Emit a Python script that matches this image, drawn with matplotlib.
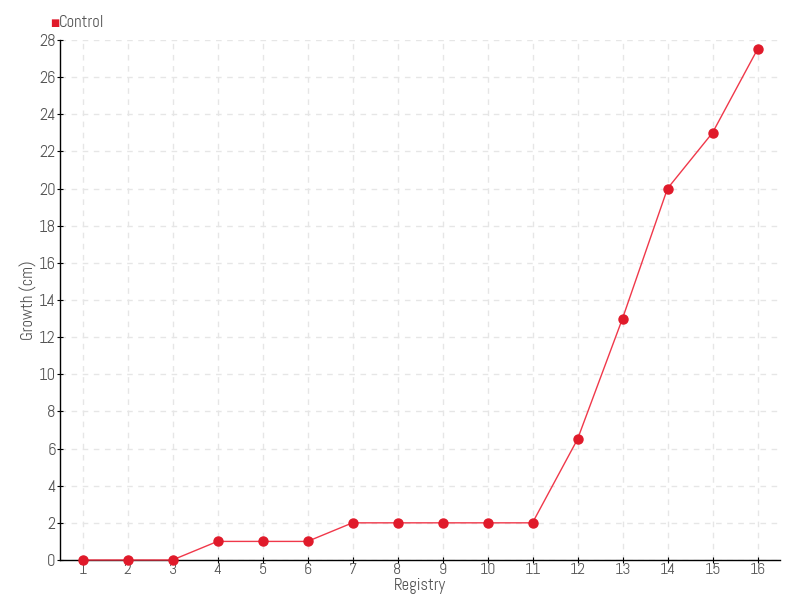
import matplotlib
matplotlib.use("Agg")
import matplotlib.pyplot as plt

x = list(range(1, 17))
control = [0, 0, 0, 1, 1, 1, 2, 2, 2, 2, 2, 6.5, 13, 20, 23, 27.5]
xticks = list(range(1, 17))
yticks = list(range(0, 29, 2))

plt.rcParams['font.family'] = ['Abel', 'DejaVu Sans']
txt = '#555555'

fig = plt.figure(figsize=(8, 6), dpi=100)
ax = fig.add_axes([0.075, 0.0667, 0.9, 0.8667])
ax.plot(x, control, color='#f0384a', lw=1, marker='o', markersize=6.5,
        markerfacecolor='#e01a2a', markeredgecolor='#e01a2a', zorder=3, clip_on=False)
ax.set_xlim(0.5, 16.5)
ax.set_ylim(0, 28)
ax.set_xticks(xticks)
ax.set_yticks(yticks)
ax.grid(True, color='#e6e6e6', ls=(0, (4, 4)), lw=1)
for s in ['top', 'right']:
    ax.spines[s].set_visible(False)
for s in ['left', 'bottom']:
    ax.spines[s].set_color('black')
    ax.spines[s].set_linewidth(1)
ax.tick_params(axis='both', colors='black', labelcolor=txt, labelsize=12, length=4,
               direction='inout', pad=1)
ax.tick_params(axis='x', labelsize=11.5, pad=0)
ax.set_xlabel('Registry', color=txt, fontsize=12)
ax.set_ylabel('Growth (cm)', color=txt, fontsize=12)
ax.xaxis.set_label_coords(0.5, -0.034)
ax.yaxis.set_label_coords(-0.031, 0.5)
fig.text(0.0625, 0.961, '■', color='#e01a2a', fontsize=7, ha='left', va='center', family='DejaVu Sans')
fig.text(0.073, 0.961, 'Control', color=txt, fontsize=12, ha='left', va='center')
fig.savefig('out.png', dpi=100)
